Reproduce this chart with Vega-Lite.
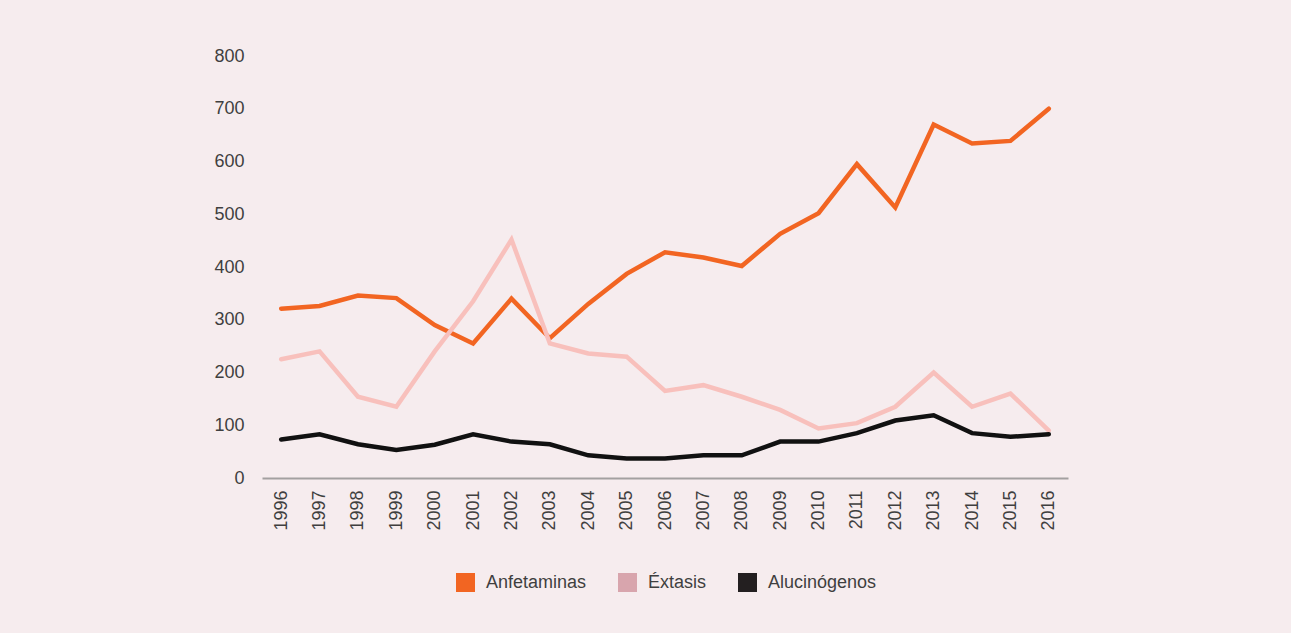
{
  "$schema": "https://vega.github.io/schema/vega-lite/v6.json",
  "autosize": "none",
  "width": 806,
  "height": 422,
  "padding": {"left": 262, "top": 56, "right": 223, "bottom": 155},
  "background": "#f6ecee",
  "config": {
    "view": {"stroke": null},
    "font": "Liberation Sans",
    "axis": {"labelFont": "Liberation Sans", "labelColor": "#3f3f3f", "labelFontSize": 18, "grid": false, "ticks": false, "title": null},
    "legend": {"labelFont": "Liberation Sans", "labelColor": "#3f3f3f", "labelFontSize": 18}
  },
  "data": {
    "values": [
      {"anio": "1996", "serie": "Anfetaminas", "valor": 321},
      {"anio": "1997", "serie": "Anfetaminas", "valor": 326},
      {"anio": "1998", "serie": "Anfetaminas", "valor": 346},
      {"anio": "1999", "serie": "Anfetaminas", "valor": 341},
      {"anio": "2000", "serie": "Anfetaminas", "valor": 290},
      {"anio": "2001", "serie": "Anfetaminas", "valor": 255},
      {"anio": "2002", "serie": "Anfetaminas", "valor": 340},
      {"anio": "2003", "serie": "Anfetaminas", "valor": 265},
      {"anio": "2004", "serie": "Anfetaminas", "valor": 330},
      {"anio": "2005", "serie": "Anfetaminas", "valor": 387},
      {"anio": "2006", "serie": "Anfetaminas", "valor": 428},
      {"anio": "2007", "serie": "Anfetaminas", "valor": 418},
      {"anio": "2008", "serie": "Anfetaminas", "valor": 402},
      {"anio": "2009", "serie": "Anfetaminas", "valor": 463},
      {"anio": "2010", "serie": "Anfetaminas", "valor": 502},
      {"anio": "2011", "serie": "Anfetaminas", "valor": 595},
      {"anio": "2012", "serie": "Anfetaminas", "valor": 513},
      {"anio": "2013", "serie": "Anfetaminas", "valor": 670},
      {"anio": "2014", "serie": "Anfetaminas", "valor": 634},
      {"anio": "2015", "serie": "Anfetaminas", "valor": 639},
      {"anio": "2016", "serie": "Anfetaminas", "valor": 700},
      {"anio": "1996", "serie": "Éxtasis", "valor": 225},
      {"anio": "1997", "serie": "Éxtasis", "valor": 240},
      {"anio": "1998", "serie": "Éxtasis", "valor": 154},
      {"anio": "1999", "serie": "Éxtasis", "valor": 135},
      {"anio": "2000", "serie": "Éxtasis", "valor": 240},
      {"anio": "2001", "serie": "Éxtasis", "valor": 335},
      {"anio": "2002", "serie": "Éxtasis", "valor": 452},
      {"anio": "2003", "serie": "Éxtasis", "valor": 255},
      {"anio": "2004", "serie": "Éxtasis", "valor": 236},
      {"anio": "2005", "serie": "Éxtasis", "valor": 230},
      {"anio": "2006", "serie": "Éxtasis", "valor": 165},
      {"anio": "2007", "serie": "Éxtasis", "valor": 176},
      {"anio": "2008", "serie": "Éxtasis", "valor": 154},
      {"anio": "2009", "serie": "Éxtasis", "valor": 129},
      {"anio": "2010", "serie": "Éxtasis", "valor": 94},
      {"anio": "2011", "serie": "Éxtasis", "valor": 104},
      {"anio": "2012", "serie": "Éxtasis", "valor": 135},
      {"anio": "2013", "serie": "Éxtasis", "valor": 200},
      {"anio": "2014", "serie": "Éxtasis", "valor": 135},
      {"anio": "2015", "serie": "Éxtasis", "valor": 160},
      {"anio": "2016", "serie": "Éxtasis", "valor": 90},
      {"anio": "1996", "serie": "Alucinógenos", "valor": 73},
      {"anio": "1997", "serie": "Alucinógenos", "valor": 83},
      {"anio": "1998", "serie": "Alucinógenos", "valor": 64},
      {"anio": "1999", "serie": "Alucinógenos", "valor": 53},
      {"anio": "2000", "serie": "Alucinógenos", "valor": 63},
      {"anio": "2001", "serie": "Alucinógenos", "valor": 83},
      {"anio": "2002", "serie": "Alucinógenos", "valor": 69},
      {"anio": "2003", "serie": "Alucinógenos", "valor": 64},
      {"anio": "2004", "serie": "Alucinógenos", "valor": 43},
      {"anio": "2005", "serie": "Alucinógenos", "valor": 37},
      {"anio": "2006", "serie": "Alucinógenos", "valor": 37},
      {"anio": "2007", "serie": "Alucinógenos", "valor": 43},
      {"anio": "2008", "serie": "Alucinógenos", "valor": 43},
      {"anio": "2009", "serie": "Alucinógenos", "valor": 69},
      {"anio": "2010", "serie": "Alucinógenos", "valor": 69},
      {"anio": "2011", "serie": "Alucinógenos", "valor": 85},
      {"anio": "2012", "serie": "Alucinógenos", "valor": 109},
      {"anio": "2013", "serie": "Alucinógenos", "valor": 119},
      {"anio": "2014", "serie": "Alucinógenos", "valor": 85},
      {"anio": "2015", "serie": "Alucinógenos", "valor": 78},
      {"anio": "2016", "serie": "Alucinógenos", "valor": 83}
    ]
  },
  "encoding": {
    "x": {
      "field": "anio", "type": "ordinal",
      "scale": {"type": "point", "padding": 0.5},
      "axis": {"labelAngle": -90, "labelPadding": 12, "domainColor": "#a3a0a0", "domainWidth": 2}
    },
    "y": {
      "field": "valor", "type": "quantitative",
      "scale": {"domain": [0, 800], "nice": false},
      "axis": {"values": [0, 100, 200, 300, 400, 500, 600, 700, 800], "domain": false, "labelPadding": 18}
    }
  },
  "layer": [
    {
      "mark": {"type": "line", "strokeWidth": 4.5, "strokeJoin": "miter", "strokeCap": "round"},
      "encoding": {
        "stroke": {
          "field": "serie", "type": "nominal", "legend": null,
          "scale": {"domain": ["Anfetaminas", "Éxtasis", "Alucinógenos"], "range": ["#f26522", "#f8c0bc", "#111111"]}
        },
        "order": {"field": "serie", "sort": "ascending"}
      }
    },
    {
      "mark": {"type": "point", "opacity": 0, "filled": true, "shape": "square"},
      "encoding": {
        "fill": {
          "field": "serie", "type": "nominal",
          "scale": {"domain": ["Anfetaminas", "Éxtasis", "Alucinógenos"], "range": ["#f26522", "#d8a5ad", "#231f20"]},
          "legend": {
            "title": null, "orient": "none", "direction": "horizontal",
            "legendX": 194, "legendY": 517,
            "symbolType": "square", "symbolSize": 361, "symbolOpacity": 1, "symbolStrokeWidth": 0,
            "labelOffset": 11, "columnPadding": 31
          }
        }
      }
    }
  ],
  "resolve": {"scale": {"fill": "independent", "stroke": "independent"}}
}
